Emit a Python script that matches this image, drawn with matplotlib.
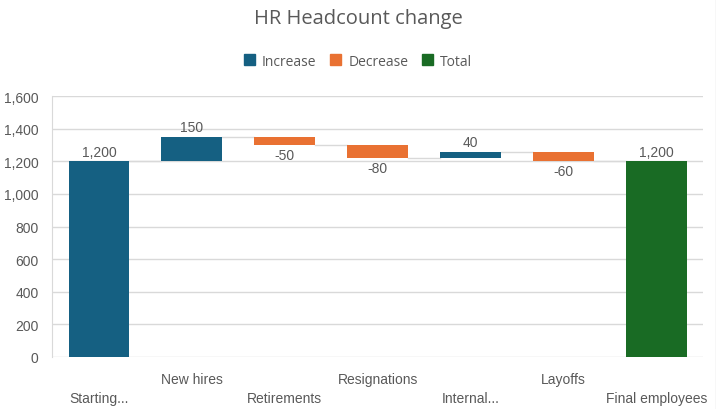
import matplotlib.pyplot as plt
from matplotlib.patches import Patch
from matplotlib.lines import Line2D

categories = ["Starting...", "New hires", "Retirements", "Resignations",
              "Internal...", "Layoffs", "Final employees"]
changes = [1200, 150, -50, -80, 40, -60, 1200]
kinds = ["Increase", "Increase", "Decrease", "Decrease", "Increase", "Decrease", "Total"]

colors = {"Increase": "#156082", "Decrease": "#E97132", "Total": "#196B24"}
txt = "#595959"
grid = "#d9d9d9"

fig = plt.figure(figsize=(7.16, 4.10), dpi=100)
ax = fig.add_axes([0.0733, 0.127, 0.9087, 0.636])

# waterfall bottoms / tops
bottoms = []
tops = []
level = 0
for v, k in zip(changes, kinds):
    if k == "Total":
        b, t = 0, v
        level = v
    elif v >= 0:
        b, t = level, level + v
        level = t
    else:
        b, t = level + v, level
        level = b
    bottoms.append(b)
    tops.append(t)

w = 0.655
for i, (v, k) in enumerate(zip(changes, kinds)):
    ax.bar(i, tops[i] - bottoms[i], bottom=bottoms[i], width=w,
           color=colors[k], zorder=3)
    lab = f"{v:,}"
    if v >= 0:
        ax.annotate(lab, (i, tops[i]), xytext=(0, 2), textcoords="offset points",
                    ha="center", va="bottom", fontsize=10, color=txt,
                    family="Liberation Sans")
    else:
        ax.annotate(lab, (i, bottoms[i]), xytext=(0, -2), textcoords="offset points",
                    ha="center", va="top", fontsize=10, color=txt,
                    family="Liberation Sans")

# connectors
level = 0
for i, v in enumerate(changes[:-1]):
    level = v if kinds[i] == "Total" or i == 0 else level + v
    ax.plot([i + w / 2, i + 1 - w / 2], [level, level], color=grid, lw=1, zorder=2)

ax.set_xlim(-0.5, 6.5)
ax.set_ylim(0, 1600)
ax.set_yticks(range(0, 1601, 200))
ax.set_yticklabels([f"{t:,}" for t in range(0, 1601, 200)], color=txt,
                   fontsize=10, family="Liberation Sans")
ax.grid(axis="y", color=grid, lw=1, zorder=0)
ax.set_axisbelow(True)
ax.set_xticks(range(len(categories)))
ax.set_xticklabels([c if i % 2 else "\n" + c for i, c in enumerate(categories)],
                   color=txt, fontsize=10, family="Liberation Sans",
                   linespacing=1.45)
ax.tick_params(axis="x", length=0, pad=11)
ax.tick_params(axis="y", length=0, pad=10)
for s in ["top", "right", "bottom"]:
    ax.spines[s].set_visible(False)
ax.spines["left"].set_color(grid)

fig.text(0.5, 1 - 19 / 410, "HR Headcount change", ha="center", va="center",
         fontsize=14.5, color=txt, family="Open Sans")
handles = [Patch(color=colors[k], label=k) for k in ["Increase", "Decrease", "Total"]]
fig.legend(handles=handles, loc="center", bbox_to_anchor=(0.5, 1 - 62 / 410),
           ncol=3, frameon=False, handlelength=0.8, handleheight=0.8,
           handletextpad=0.5, columnspacing=1.0, labelcolor=txt,
           prop={"family": "Open Sans", "size": 10})
fig.add_artist(Line2D([715.5 / 716] * 2, [0, 1], color=grid, lw=1,
                      transform=fig.transFigure))

fig.savefig("out.png", dpi=100)
